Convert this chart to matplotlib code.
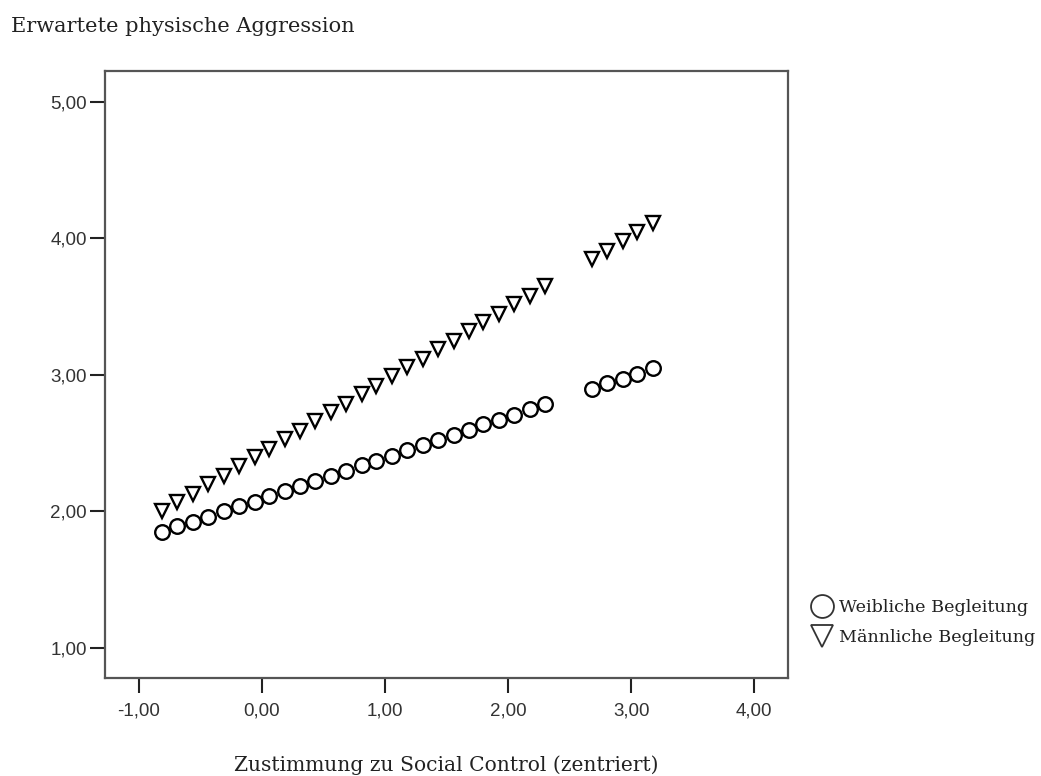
import matplotlib
matplotlib.use('Agg')
import matplotlib.pyplot as plt
from matplotlib.lines import Line2D
from matplotlib.ticker import FuncFormatter

# Predicted values per level of social control (centred)
social_control = [-0.81, -0.69, -0.56, -0.44, -0.31, -0.19, -0.06, 0.06, 0.19, 0.31,
                  0.43, 0.56, 0.68, 0.81, 0.93, 1.06, 1.18, 1.31, 1.43, 1.56,
                  1.68, 1.80, 1.93, 2.05, 2.18, 2.30, 2.68, 2.80, 2.93, 3.05, 3.18]
aggr_female = [1.85, 1.89, 1.92, 1.96, 2.00, 2.04, 2.07, 2.11, 2.15, 2.19,
               2.22, 2.26, 2.30, 2.34, 2.37, 2.41, 2.45, 2.49, 2.52, 2.56,
               2.60, 2.64, 2.67, 2.71, 2.75, 2.79, 2.90, 2.94, 2.97, 3.01, 3.05]
aggr_male = [2.00, 2.07, 2.13, 2.20, 2.26, 2.33, 2.40, 2.46, 2.53, 2.59,
             2.66, 2.73, 2.79, 2.86, 2.92, 2.99, 3.06, 3.12, 3.19, 3.25,
             3.32, 3.39, 3.45, 3.52, 3.58, 3.65, 3.85, 3.91, 3.98, 4.05, 4.11]

series_labels = ["Weibliche Begleitung", "M\u00e4nnliche Begleitung"]
x_ticks = [-1, 0, 1, 2, 3, 4]
y_ticks = [1, 2, 3, 4, 5]

SERIF = ["DejaVu Serif"]
SANS = ["Liberation Sans"]

fig = plt.figure(figsize=(10.41, 7.76), dpi=100)
ax = fig.add_axes([0.1009, 0.1263, 0.6561, 0.7822])

ax.plot(social_control, aggr_female, linestyle="none", marker="o", markersize=10.5,
        markerfacecolor="none", markeredgecolor="black", markeredgewidth=1.7)
ax.plot(social_control, aggr_male, linestyle="none", marker="v", markersize=10.5,
        markerfacecolor="none", markeredgecolor="black", markeredgewidth=1.7)

ax.set_xlim(-1.275, 4.275)
ax.set_ylim(0.78, 5.227)
ax.set_xticks(x_ticks)
ax.set_yticks(y_ticks)
comma = FuncFormatter(lambda v, pos: f"{v:.2f}".replace(".", ","))
ax.xaxis.set_major_formatter(comma)
ax.yaxis.set_major_formatter(comma)
ax.tick_params(direction="out", length=11, width=1.5, color="#222222",
               labelsize=13.5)
ax.tick_params(axis="y", pad=2)
ax.tick_params(axis="x", pad=7)
for lbl in ax.get_xticklabels() + ax.get_yticklabels():
    lbl.set_family(SANS)
    lbl.set_color("#333333")
for sp in ax.spines.values():
    sp.set_color("#555555")
    sp.set_linewidth(1.6)

fig.text(0.0106, 0.966, "Erwartete physische Aggression", family=SERIF,
         fontsize=15, ha="left", va="center", color="#222222")
fig.text(0.4289, 0.014, "Zustimmung zu Social Control (zentriert)", family=SERIF,
         fontsize=14.6, ha="center", va="center", color="#222222")

handles = [
    Line2D([], [], linestyle="none", marker="o", markersize=16.5, markerfacecolor="none",
           markeredgecolor="#333333", markeredgewidth=1.3),
    Line2D([], [], linestyle="none", marker="v", markersize=16.5, markerfacecolor="none",
           markeredgecolor="#333333", markeredgewidth=1.3),
]
leg = fig.legend(handles, series_labels, loc="center left",
                 bbox_to_anchor=(0.766, 0.198), frameon=False, handlelength=1.0,
                 handletextpad=0.45, labelspacing=0.75,
                 prop={"family": SERIF, "size": 12.6})
for t in leg.get_texts():
    t.set_color("#222222")

fig.savefig("out.png", dpi=100, facecolor="white")
